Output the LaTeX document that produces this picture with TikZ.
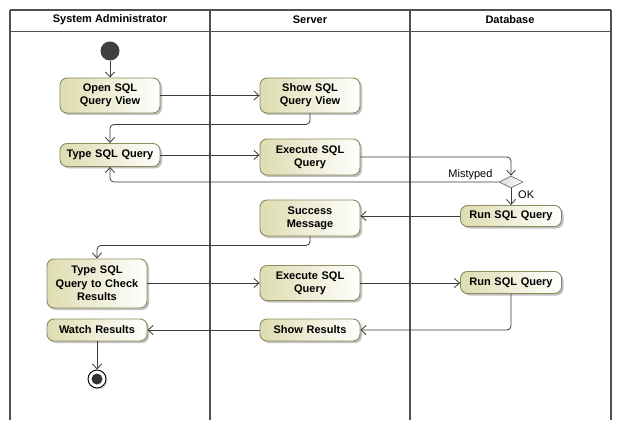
\documentclass[tikz,border=0pt]{standalone}
\usepackage{fontspec}
\setmainfont{Liberation Sans}
\usetikzlibrary{arrows.meta,shapes.geometric,shadows,calc}
\definecolor{lane}{RGB}{80,80,80}
\definecolor{actborder}{RGB}{140,140,90}
\definecolor{actfill}{RGB}{222,220,176}
\definecolor{conn}{RGB}{60,60,60}
\tikzset{
  act/.style={rectangle, rounded corners=7pt, draw=actborder, line width=0.9pt,
    left color=actfill, right color=white, text width=94pt, align=center,
    inner sep=0pt, minimum width=100pt,
    font=\fontsize{11}{13.3}\selectfont\bfseries,
    drop shadow={shadow xshift=2pt, shadow yshift=-2pt, fill=black!30, opacity=0.8}},
  flow/.style={draw=conn, line width=0.8pt, rounded corners=4pt,
    -{Straight Barb[length=5pt,width=9pt]}},
  hdr/.style={font=\fontsize{11}{13}\selectfont\bfseries},
  lbl/.style={font=\fontsize{11}{13}\selectfont, inner sep=1pt},
}
\begin{document}
\begin{tikzpicture}[x=1pt,y=-1pt]
\useasboundingbox[fill=white] (0,0) rectangle (620,430);
% swimlanes
\draw[lane, line width=1.2pt] (10,10) -- (611,10);
\draw[lane, line width=1pt] (10,32) -- (611,32);
\foreach \xx in {10,210,410,611}
  \draw[lane, line width=2pt] (\xx,10) -- (\xx,420);
\node[hdr] (h1) at (110,20) {System Administrator};
\node[hdr] (h2) at (310,20) {Server};
\node[hdr] (h3) at (510,20) {Database};
% nodes
\node[circle, fill=black!75, minimum size=19pt, inner sep=0pt] (start) at (110,51) {};
\node[act, minimum height=35pt] (open) at (110,95.5) {Open SQL\\Query View};
\node[act, minimum height=35pt] (show) at (310,95.5) {Show SQL\\Query View};
\node[act, minimum height=23pt] (type) at (110,155) {Type SQL Query};
\node[act, minimum height=36pt] (exec1) at (310,157) {Execute SQL\\Query};
\node[diamond, draw=black!55, left color=black!15, right color=white, line width=0.7pt,
  minimum width=24pt, minimum height=12pt, inner sep=0pt] (dec) at (511,182) {};
\node[act, minimum height=21pt, minimum width=101pt] (run1) at (511,216) {Run SQL Query};
\node[act, minimum height=36pt] (succ) at (310,218) {Success\\Message};
\node[act, minimum height=49pt] (tcheck) at (97,283.5) {Type SQL\\Query to Check\\Results};
\node[act, minimum height=35pt] (exec2) at (310,283) {Execute SQL\\Query};
\node[act, minimum height=22pt, minimum width=101pt] (run2) at (511,282.5) {Run SQL Query};
\node[act, minimum height=22pt] (showres) at (310,330) {Show Results};
\node[act, minimum height=22pt] (watch) at (97,330) {Watch Results};
\node[circle, draw=black, line width=0.9pt, fill=white, minimum size=18pt, inner sep=0pt,
  drop shadow={shadow xshift=1.5pt, shadow yshift=-1.5pt, fill=black!30}] (final) at (97,379) {};
\fill[black!80] (final.center) circle (5.5);
% connectors
\draw[flow] (start) -- (open);
\draw[flow] (open) -- (show);
\coordinate (c1) at ($(show.south)+(0,11)$);
\draw[flow] (show.south) -- (c1) -| (type.north);
\draw[flow] (type.east) -- (type.east -| exec1.west);
\draw[flow] (exec1.east) -| (dec.north);
\draw[flow] (dec.west) -| (type.south);
\node[lbl, anchor=south east] (mis) at ($(dec.west)+(-5,-1)$) {Mistyped};
\draw[flow] (dec.south) -- (run1.north);
\node[lbl, anchor=west] (ok) at ($(dec.south)+(6,6)$) {OK};
\draw[flow] (run1.west) -- (run1.west -| succ.east);
\coordinate (c2) at ($(succ.south)+(0,9)$);
\draw[flow] (succ.south) -- (c2) -| (tcheck.north);
\draw[flow] (tcheck.east |- exec2.west) -- (exec2.west);
\draw[flow] (exec2.east) -- (exec2.east -| run2.west);
\draw[flow] (run2.south) |- (showres.east);
\draw[flow] (showres.west) -- (watch.east);
\draw[flow] (watch.south) -- (final.north);
\end{tikzpicture}
\end{document}
